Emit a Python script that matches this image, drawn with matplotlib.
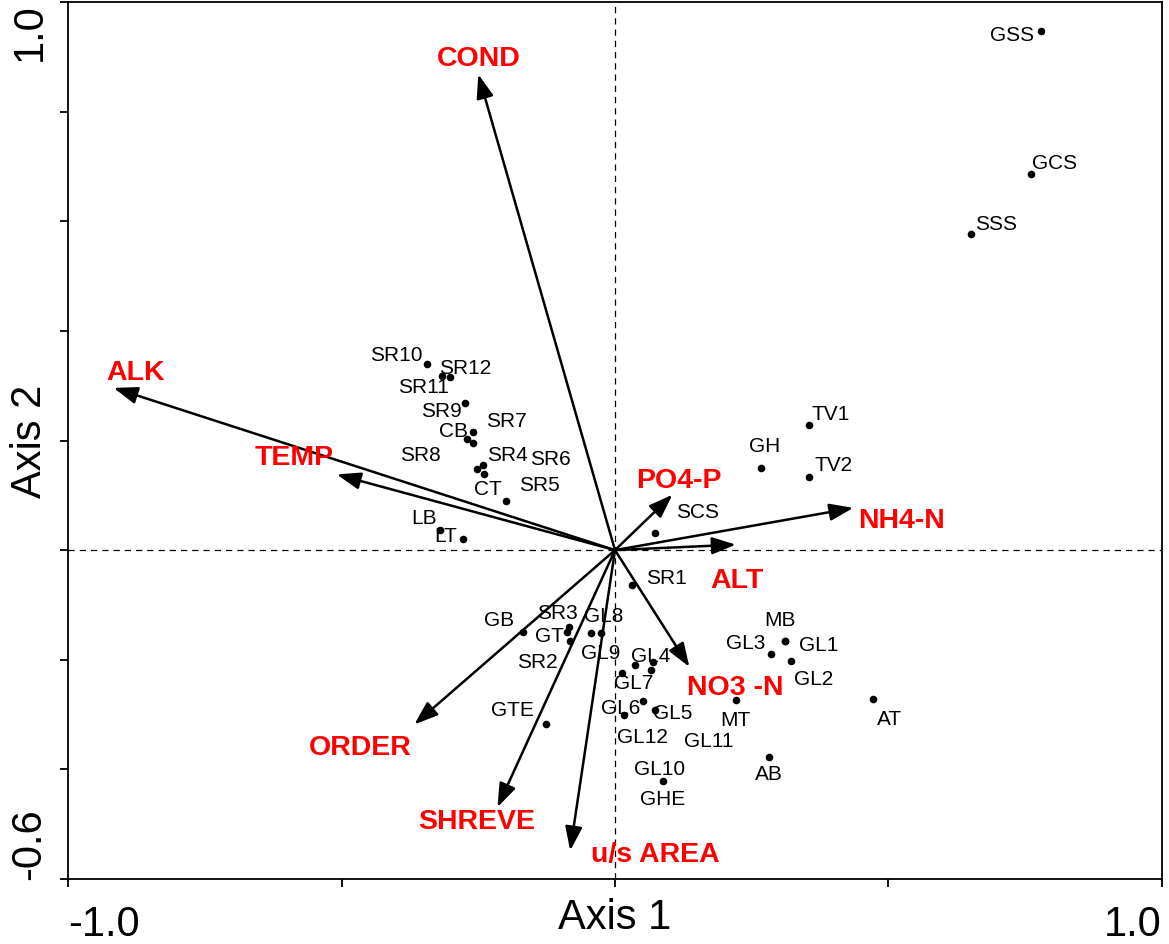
import matplotlib
matplotlib.use("Agg")
import matplotlib.pyplot as plt

plt.rcParams['font.family'] = ['Liberation Sans', 'DejaVu Sans']

# --- site scores (axis 1, axis 2) ---
site_names = ["SR10", "SR11", "SR12", "SR9", "CB", "SR7", "SR8", "SR4", "SR6", "CT",
              "SR5", "LB", "LT", "SR1", "GB", "SR3", "GT", "SR2", "GL8", "GL9",
              "GL4", "GL7", "GL11", "GL10", "GL6", "GL5", "GL12", "GHE", "GTE", "MB",
              "GL1", "GL3", "GL2", "MT", "AT", "AB", "TV1", "GH", "TV2", "SCS",
              "GSS", "GCS", "SSS"]
site_x = [-0.344, -0.317, -0.302, -0.274, -0.260, -0.259, -0.271, -0.242, -0.253, -0.239,
          -0.200, -0.320, -0.278, 0.031, -0.168, -0.084, -0.088, -0.082, -0.026, -0.044,
          0.070, 0.012, 0.065, 0.037, 0.052, 0.074, 0.016, 0.087, -0.127, 0.311,
          0.311, 0.285, 0.322, 0.221, 0.472, 0.282, 0.354, 0.267, 0.355, 0.073,
          0.779, 0.761, 0.651]
site_y = [0.339, 0.317, 0.316, 0.269, 0.216, 0.195, 0.202, 0.155, 0.148, 0.138,
          0.090, 0.037, 0.020, -0.064, -0.150, -0.140, -0.150, -0.165, -0.152, -0.152,
          -0.205, -0.225, -0.219, -0.210, -0.276, -0.291, -0.300, -0.422, -0.318, -0.166,
          -0.166, -0.189, -0.202, -0.274, -0.272, -0.377, 0.229, 0.150, 0.134, 0.031,
          0.948, 0.686, 0.576]

# --- environmental variable arrows (tip coordinates) ---
env_names = ["COND", "ALK", "TEMP", "PO4-P", "NH4-N", "ALT", "NO3 -N", "ORDER",
             "SHREVE", "u/s AREA"]
env_x = [-0.250, -0.917, -0.509, 0.105, 0.436, 0.221, 0.136, -0.367, -0.215, -0.082]
env_y = [0.868, 0.296, 0.138, 0.101, 0.077, 0.010, -0.213, -0.318, -0.469, -0.548]

# label placement, in pixels relative to the point / arrow tip
site_offsets = [(-31, 13), (-18, -7), (15, 12), (-24, -5), (-19, 4), (33, 26), (-46, -12),
                (25, 14), (74, 14), (4, -11), (34, 19), (-16, 15), (-17, 7), (34, 11),
                (-24, 16), (-12, 17), (-17, 0), (-33, -18), (3, 21), (10, -16), (-3, 10),
                (12, -6), (58, -67), (24, -100), (-23, -3), (17, 0), (19, -19), (0, -14),
                (-33, 18), (-5, 25), (34, 0), (-25, 14), (23, -15), (0, -16), (16, -16),
                (0, -14), (22, 14), (4, 25), (24, 15), (43, 25), (-29, -1), (24, 15),
                (25, 14)]
env_offsets = [(0, 19), (22, 19), (-43, 20), (6, 18), (48, -9), (1, -32), (46, -17),
               (-54, -20), (-21, -11), (85, -1)]
SHIFT = -3  # text bbox centre sits a little above the glyph centre

fig = plt.figure(figsize=(11.69, 9.45), dpi=100)
ax = fig.add_axes([68.3 / 1169, 65 / 945, 1093.4 / 1169, 877 / 945])
ax.set_xlim(-1.0, 1.0)
ax.set_ylim(-0.6, 1.0)

# dashed zero lines
ax.axhline(0, color='black', lw=0.9, ls=(0, (5, 4)), zorder=1)
ax.axvline(0, color='black', lw=0.9, ls=(0, (5, 4)), zorder=1)

# arrows for environmental variables
for name, x, y, (dx, dy) in zip(env_names, env_x, env_y, env_offsets):
    ax.annotate('', xy=(x, y), xytext=(0, 0),
                arrowprops=dict(arrowstyle='-|>,head_length=1.0,head_width=0.36',
                                mutation_scale=14.5, lw=1.8, color='black',
                                shrinkA=0, shrinkB=0), zorder=3)
    ax.annotate(name, xy=(x, y), xytext=(dx, dy + SHIFT), textcoords='offset pixels',
                ha='center', va='center', color='#ff0000', fontsize=20.5,
                fontweight='bold', zorder=4)

# site points and labels
ax.scatter(site_x, site_y, s=20, color='black', zorder=5)
for name, x, y, (dx, dy) in zip(site_names, site_x, site_y, site_offsets):
    ax.annotate(name, xy=(x, y), xytext=(dx, dy + SHIFT), textcoords='offset pixels',
                ha='center', va='center', color='black', fontsize=15, zorder=6)

# axes styling
for sp in ax.spines.values():
    sp.set_linewidth(1.3)
ax.set_xticks([-1.0, -0.5, 0.0, 0.5, 1.0])
ax.set_xticklabels(['-1.0', '', '', '', '1.0'])
ax.set_yticks([-0.6, -0.4, -0.2, 0.0, 0.2, 0.4, 0.6, 0.8, 1.0])
ax.set_yticklabels(['-0.6', '', '', '', '', '', '', '', '1.0'], rotation=90)
ax.tick_params(direction='out', length=6, width=1.3, labelsize=30)
ax.tick_params(axis='x', pad=12)
ax.tick_params(axis='y', pad=22)
xt = ax.get_xticklabels()
xt[0].set_ha('left')
xt[-1].set_ha('right')
yt = ax.get_yticklabels()
yt[0].set_va('bottom')
yt[-1].set_va('top')
for t in yt:
    t.set_ha('center')

ax.set_xlabel('Axis 1', fontsize=30)
ax.xaxis.set_label_coords(0.5, -0.043)
ax.xaxis.label.set_va('center')
ax.set_ylabel('Axis 2', fontsize=30)
ax.yaxis.set_label_coords(-0.035, 0.5)
ax.yaxis.label.set_va('center')

fig.savefig('out.png', dpi=100)
